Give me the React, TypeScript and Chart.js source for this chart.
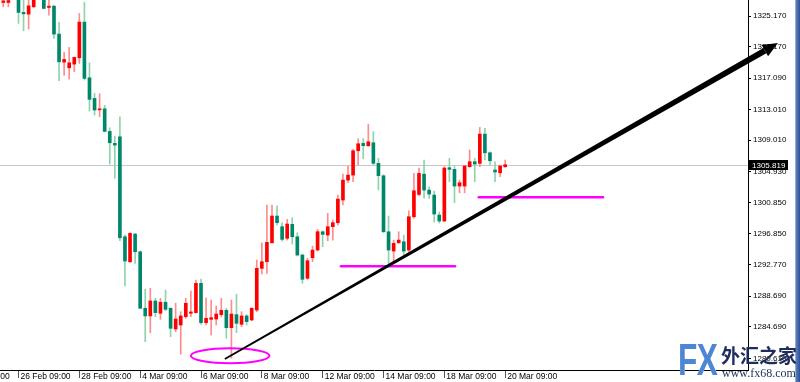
import { useEffect, useRef } from 'react';
import { Chart, registerables } from 'chart.js';

Chart.register(...registerables);

// XAUUSD H4 candles (bar index 0..99)
const opens = [
  1326.95, 1326.95, 1328.6, 1328.1, 1325.65, 1325.43, 1326.38, 1327.7, 1328.3, 1326.3,
  1326.47, 1322.83, 1319.18, 1318.44, 1318.92, 1319.74, 1324.39, 1317.14, 1314.46, 1312.97,
  1313.1, 1310.16, 1308.6, 1309.46, 1296.44, 1293.19, 1296.79, 1294.49, 1287.13, 1286.13,
  1288.08, 1286.48, 1287.91, 1287.13, 1284.43, 1284.95, 1286.04, 1286.48, 1286.56, 1290.38,
  1285.25, 1285.69, 1285.73, 1286.3, 1286.86, 1284.6, 1286.3, 1285.04, 1286.13, 1285.6,
  1286.9, 1292.33, 1293.19, 1295.66, 1299.14, 1297.75, 1296.24, 1298.06, 1296.44, 1294.06,
  1291.03, 1293.71, 1294.71, 1297.09, 1296.66, 1297.75, 1298.27, 1301.22, 1303.82, 1304.47,
  1307.64, 1308.6, 1308.29, 1308.68, 1306.0, 1304.38, 1297.09, 1294.58, 1295.66, 1295.79,
  1294.71, 1299.05, 1301.95, 1304.6, 1302.52, 1301.87, 1299.27, 1298.49, 1305.43, 1305.22,
  1303.04, 1303.04, 1305.56, 1306.21, 1306.0, 1309.81, 1307.38, 1305.13, 1304.77, 1305.56,
];
const highs = [
  1327.6, 1327.7, 1329.2, 1328.4, 1327.5, 1327.6, 1328.2, 1329.0, 1328.8, 1327.4,
  1326.6, 1324.35, 1320.45, 1321.1, 1319.85, 1325.52, 1326.99, 1319.09, 1315.11, 1315.06,
  1313.55, 1310.63, 1309.55, 1312.06, 1296.7, 1297.0, 1296.9, 1294.58, 1289.6, 1289.73,
  1288.43, 1288.43, 1289.5, 1287.2, 1287.78, 1286.69, 1288.43, 1289.37, 1290.81, 1290.94,
  1288.5, 1288.2, 1287.43, 1288.43, 1287.13, 1288.2, 1288.95, 1286.69, 1286.3, 1287.2,
  1293.41, 1295.66, 1300.57, 1300.57, 1300.48, 1298.27, 1298.71, 1298.92, 1296.96, 1294.2,
  1293.63, 1295.23, 1297.4, 1297.2, 1299.49, 1298.62, 1301.87, 1304.6, 1305.65, 1307.82,
  1309.2, 1309.2, 1311.1, 1310.15, 1306.65, 1304.5, 1299.14, 1296.01, 1297.09, 1296.66,
  1299.83, 1304.69, 1305.39, 1306.43, 1302.95, 1302.39, 1299.66, 1305.56, 1306.65, 1305.65,
  1303.82, 1305.7, 1307.73, 1306.65, 1310.68, 1310.55, 1307.51, 1306.21, 1305.78, 1306.43,
];
const lows = [
  1326.38, 1326.38, 1327.5, 1324.22, 1323.26, 1323.48, 1326.3, 1327.4, 1326.1, 1325.3,
  1322.27, 1316.75, 1317.49, 1316.97, 1317.92, 1319.01, 1316.84, 1312.81, 1312.28, 1312.06,
  1310.1, 1305.91, 1304.05, 1295.92, 1290.03, 1293.06, 1292.98, 1287.1, 1282.78, 1283.95,
  1286.04, 1285.69, 1286.81, 1283.43, 1284.08, 1281.14, 1285.82, 1286.04, 1286.5, 1285.04,
  1284.95, 1283.65, 1284.95, 1286.0, 1283.22, 1280.62, 1283.95, 1284.73, 1284.95, 1285.5,
  1286.69, 1291.59, 1291.68, 1295.6, 1297.97, 1295.88, 1296.01, 1295.49, 1293.93, 1290.38,
  1290.9, 1293.19, 1294.6, 1295.14, 1295.92, 1296.0, 1297.97, 1300.6, 1303.47, 1303.6,
  1305.78, 1306.6, 1308.2, 1305.78, 1302.55, 1297.0, 1292.76, 1292.98, 1295.58, 1294.06,
  1294.06, 1298.84, 1301.8, 1301.48, 1301.44, 1298.36, 1298.23, 1298.4, 1303.6, 1300.87,
  1302.17, 1302.17, 1305.5, 1303.6, 1305.56, 1306.43, 1305.78, 1303.6, 1304.25, 1305.47,
];
const closes = [
  1327.16, 1327.2, 1328.1, 1325.65, 1325.47, 1326.51, 1327.7, 1328.6, 1326.17, 1326.47,
  1322.83, 1319.22, 1319.53, 1319.09, 1319.8, 1324.39, 1317.06, 1314.33, 1312.94, 1313.1,
  1310.16, 1308.68, 1308.38, 1296.31, 1293.28, 1296.88, 1294.49, 1287.13, 1286.13, 1288.08,
  1286.56, 1287.91, 1286.99, 1284.52, 1285.73, 1286.13, 1287.78, 1286.65, 1290.38, 1285.25,
  1285.82, 1285.9, 1286.38, 1286.86, 1284.6, 1286.38, 1285.17, 1286.13, 1285.39, 1287.13,
  1292.33, 1293.19, 1295.71, 1299.14, 1298.27, 1296.1, 1298.1, 1296.44, 1294.06, 1290.9,
  1293.32, 1294.71, 1297.1, 1296.75, 1297.75, 1298.27, 1301.35, 1303.82, 1304.47, 1307.64,
  1308.55, 1308.3, 1308.81, 1306.0, 1304.4, 1297.09, 1294.71, 1295.58, 1296.01, 1294.58,
  1299.05, 1302.43, 1304.69, 1302.52, 1302.0, 1299.4, 1298.49, 1305.39, 1305.22, 1303.04,
  1303.47, 1305.65, 1306.21, 1305.91, 1309.81, 1307.38, 1306.34, 1304.87, 1305.65, 1305.82,
];

const xTickIndex = [-9, 3, 15, 27, 39, 51, 63, 75, 87, 99];
const xTickLabels = [
  '22 Feb 09:00', '26 Feb 09:00', '28 Feb 09:00', '4 Mar 09:00', '6 Mar 09:00',
  '8 Mar 09:00', '12 Mar 09:00', '14 Mar 09:00', '18 Mar 09:00', '20 Mar 09:00',
];
const yTicks = [
  1325.17, 1321.17, 1317.09, 1313.01, 1309.01, 1304.93, 1300.85, 1296.85,
  1292.77, 1288.69, 1284.69, 1280.61,
];
const currentPrice = 1305.819;

// drawn annotations (bar index / price)
const lowEllipseX = [37.0, 52.5];
const lowEllipseY = [1279.97, 1281.92];
const support1X = [66.6, 89.1];
const support1Y = 1292.6;
const support2X = [93.8, 118.3];
const support2Y = 1301.57;
const trendX = [43.7, 152.8];
const trendY = [1280.53, 1321.66];

const X_MIN = -0.65;
const X_MAX = 146.9;
const Y_MIN = 1279.09;
const Y_MAX = 1327.27;

const UP = '#ff0000';
const DOWN = '#00876a';
const UP_WICK = '#ff8c8c';
const DOWN_WICK = '#8ed3aa';
const FONT = 'Liberation Sans';

const annotPlugin = {
  id: 'annot',
  beforeDatasetsDraw(chart: any) {
    const { ctx, chartArea, scales } = chart;
    const y = Math.round(scales.y.getPixelForValue(currentPrice)) + 0.5;
    ctx.save();
    ctx.strokeStyle = '#c8c8c8';
    ctx.lineWidth = 1;
    ctx.beginPath();
    ctx.moveTo(chartArea.left, y);
    ctx.lineTo(chartArea.right, y);
    ctx.stroke();
    ctx.restore();
  },
  afterDatasetsDraw(chart: any) {
    const { ctx, scales } = chart;
    const sx = scales.x;
    const sy = scales.y;
    ctx.save();
    const ex0 = sx.getPixelForValue(lowEllipseX[0]);
    const ex1 = sx.getPixelForValue(lowEllipseX[1]);
    const ey0 = sy.getPixelForValue(lowEllipseY[1]);
    const ey1 = sy.getPixelForValue(lowEllipseY[0]);
    ctx.strokeStyle = '#ff00ff';
    ctx.lineWidth = 2;
    ctx.beginPath();
    ctx.ellipse((ex0 + ex1) / 2, (ey0 + ey1) / 2, (ex1 - ex0) / 2, (ey1 - ey0) / 2, 0, 0, Math.PI * 2);
    ctx.stroke();
    ctx.lineWidth = 2.5;
    ctx.lineCap = 'round';
    const drawH = (xs: number[], v: number) => {
      const yy = sy.getPixelForValue(v);
      ctx.beginPath();
      ctx.moveTo(sx.getPixelForValue(xs[0]), yy);
      ctx.lineTo(sx.getPixelForValue(xs[1]), yy);
      ctx.stroke();
    };
    drawH(support1X, support1Y);
    drawH(support2X, support2Y);
    const p0x = sx.getPixelForValue(trendX[0]);
    const p0y = sy.getPixelForValue(trendY[0]);
    const p1x = sx.getPixelForValue(trendX[1]);
    const p1y = sy.getPixelForValue(trendY[1]);
    const len = Math.hypot(p1x - p0x, p1y - p0y);
    const dx = (p1x - p0x) / len;
    const dy = (p1y - p0y) / len;
    const nx = -dy;
    const ny = dx;
    const headLen = 15;
    const headHalf = 6.5;
    const bx = p1x - dx * headLen;
    const by = p1y - dy * headLen;
    const w0 = 0.8;
    const w1 = 3;
    ctx.fillStyle = '#000';
    ctx.beginPath();
    ctx.moveTo(p0x + nx * w0, p0y + ny * w0);
    ctx.lineTo(bx + nx * w1, by + ny * w1);
    ctx.lineTo(bx - nx * w1, by - ny * w1);
    ctx.lineTo(p0x - nx * w0, p0y - ny * w0);
    ctx.closePath();
    ctx.fill();
    ctx.beginPath();
    ctx.moveTo(p1x, p1y);
    ctx.lineTo(bx + nx * headHalf, by + ny * headHalf);
    ctx.lineTo(bx - nx * headHalf, by - ny * headHalf);
    ctx.closePath();
    ctx.fill();
    ctx.restore();
  },
  afterDraw(chart: any) {
    const { ctx, scales, chartArea } = chart;
    const y = Math.round(scales.y.getPixelForValue(currentPrice));
    ctx.save();
    ctx.fillStyle = '#000';
    ctx.fillRect(chartArea.right + 1, y - 5, 39, 10);
    ctx.fillStyle = '#fff';
    ctx.font = `8px "${FONT}"`;
    ctx.textBaseline = 'middle';
    ctx.textAlign = 'left';
    ctx.fillText(currentPrice.toFixed(3), chartArea.right + 4, y + 0.5);
    ctx.restore();
  },
};

export default function App() {
  const ref = useRef<HTMLCanvasElement | null>(null);

  useEffect(() => {
    if (!ref.current) return;
    const idx = opens.map((_, i) => i);
    const bodies = idx.map((i) => ({ x: i, y: [Math.min(opens[i], closes[i]), Math.max(opens[i], closes[i])] }));
    const wicks = idx.map((i) => ({ x: i, y: [lows[i], highs[i]] }));
    const isUp = idx.map((i) => closes[i] >= opens[i]);

    const chart = new Chart(ref.current, {
      type: 'bar',
      data: {
        datasets: [
          {
            label: 'body',
            data: bodies as any,
            backgroundColor: isUp.map((u) => (u ? UP : DOWN)),
            barThickness: 3,
            minBarLength: 1,
            grouped: false,
            borderWidth: 0,
          },
          {
            label: 'wick',
            data: wicks as any,
            backgroundColor: isUp.map((u) => (u ? UP_WICK : DOWN_WICK)),
            barThickness: 1,
            minBarLength: 1,
            grouped: false,
            borderWidth: 0,
          },
        ],
      },
      options: {
        animation: false,
        responsive: false,
        events: [],
        layout: { padding: 0 },
        plugins: { legend: { display: false }, tooltip: { enabled: false } },
        scales: {
          x: {
            type: 'linear',
            min: X_MIN,
            max: X_MAX,
            bounds: 'data',
            offset: false,
            grid: { display: true, offset: false, drawOnChartArea: false, drawTicks: true, tickLength: 8, color: '#555' },
            border: { display: true, color: '#000' },
            ticks: {
              autoSkip: false,
              maxRotation: 0,
              align: 'start',
              labelOffset: 2,
              padding: -6,
              color: '#000',
              font: { family: FONT, size: 8.5 },
              callback: (v: any) => {
                const k = xTickIndex.indexOf(Number(v));
                return k >= 0 ? xTickLabels[k] : '';
              },
            },
            afterBuildTicks: (axis: any) => {
              axis.ticks = xTickIndex.map((v) => ({ value: v }));
            },
            afterFit: (axis: any) => {
              axis.height = 12;
              axis.paddingLeft = 0;
              axis.paddingRight = 0;
            },
          },
          y: {
            type: 'linear',
            position: 'right',
            min: Y_MIN,
            max: Y_MAX,
            bounds: 'data',
            grid: { display: true, offset: false, drawOnChartArea: false, drawTicks: true, tickLength: 3, color: '#000' },
            border: { display: true, color: '#000' },
            ticks: {
              autoSkip: false,
              padding: 2,
              color: '#000',
              font: { family: FONT, size: 8 },
              callback: (v: any) => Number(v).toFixed(3),
            },
            afterBuildTicks: (axis: any) => {
              axis.ticks = yTicks.map((v) => ({ value: v }));
            },
            afterFit: (axis: any) => {
              axis.width = 52;
              axis.paddingTop = 0;
              axis.paddingBottom = 0;
            },
          },
        },
      } as any,
      plugins: [annotPlugin],
    });
    return () => chart.destroy();
  }, []);

  return (
    <div style={{ position: 'fixed', left: 0, top: 0, width: 800, height: 382, background: '#fff', overflow: 'hidden' }}>
      <canvas ref={ref} width={800} height={382} style={{ width: 800, height: 382, display: 'block' }} />
      <div
        style={{
          position: 'absolute', left: 795, top: 0, width: 5, height: 382,
          background: 'linear-gradient(to right, #c9d6ee 0px, #5b7fc0 1px, #2e4f8f 5px)',
        }}
      />
      <div
        style={{
          position: 'absolute', left: 678, top: 338, fontFamily: 'Liberation Sans', fontWeight: 900,
          fontSize: 44, lineHeight: '44px', color: '#4d86d4', transform: 'scaleX(0.72)', transformOrigin: 'left top',
          letterSpacing: '-1px', textShadow: '0 0 1px #fff',
        }}
      >
        FX
      </div>
      <div
        style={{
          position: 'absolute', left: 721, top: 344, fontFamily: '"Noto Sans CJK SC"', fontWeight: 700,
          fontSize: 19, lineHeight: '22px', color: '#1e2d5c', letterSpacing: '0px',
        }}
      >
        外汇之家
      </div>
      <div
        style={{
          position: 'absolute', left: 722, top: 366, fontFamily: '"Liberation Serif"',
          fontSize: 12, lineHeight: '14px', color: '#1e2d5c',
        }}
      >
        www.fx68.com
      </div>
    </div>
  );
}
